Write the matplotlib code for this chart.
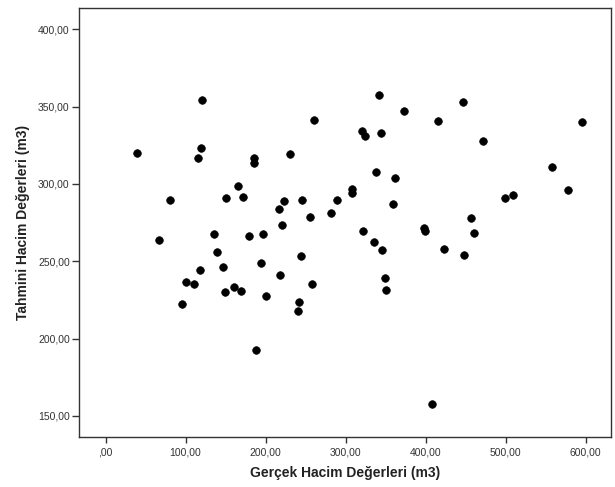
import matplotlib
matplotlib.use("Agg")
import matplotlib.pyplot as plt
from matplotlib.ticker import FuncFormatter

plt.rcParams['font.family'] = ['Liberation Sans', 'DejaVu Sans']

# gerçek hacim (x) ve tahmini hacim (y)
gercek = [38.9, 121, 119, 115, 185, 185, 231, 260, 321, 324,
          341.5, 344.5, 372.5, 415, 446.4, 471.5, 596, 558, 578, 80.7,
          67, 165, 151, 171.8, 135.8, 138.8, 179.6, 196.4, 217, 222.4,
          220.5, 246, 256, 282, 289, 308, 308, 337.6, 361.7, 358.8,
          321.9, 335, 346, 349.4, 350.4, 397.6, 399.6, 422.7, 447.8, 456.7,
          461, 499, 509.4, 194.4, 147, 117.9, 100.9, 110.7, 218, 244.6,
          257.9, 160, 149.6, 169.8, 200.8, 95, 242, 240.7, 188.5, 408]
tahmini = [320.0, 354.5, 323.5, 316.6, 316.6, 313.8, 319.4, 341.2, 334.3, 331.3,
           357.3, 332.8, 347.4, 340.9, 352.8, 327.6, 340.3, 311.2, 296.1, 289.9,
           263.8, 298.9, 290.7, 291.4, 267.5, 255.8, 266, 267.7, 283.8, 288.8,
           273.7, 289.7, 278.7, 281, 289.4, 296.8, 294, 307.5, 303.9, 287.1,
           269.8, 262.7, 257.3, 239, 231.7, 271.3, 269.6, 257.8, 254.3, 277.8,
           268.1, 291.2, 292.9, 248.7, 246.1, 244, 236.4, 235.3, 240.9, 253.2,
           235.3, 233.6, 230.2, 230.8, 227.6, 222.6, 223.7, 217.7, 192.7, 157.8]

x_ticks = [0, 100, 200, 300, 400, 500, 600]
y_ticks = [150, 200, 250, 300, 350, 400]


def virgul(v, pos):
    s = "%.2f" % v
    s = s.replace(".", ",")
    if s.startswith("0,"):
        s = s[1:]
    return s


fig = plt.figure(figsize=(6.15, 4.87), dpi=100)
ax = fig.add_axes([0.128, 0.103, 0.866, 0.880])

ax.scatter(gercek, tahmini, s=30, color="black", edgecolors="black", linewidths=0.5, zorder=3)

ax.set_xlim(-33.5, 632)
ax.set_ylim(136.4, 413.6)
ax.set_xticks(x_ticks)
ax.set_yticks(y_ticks)
ax.xaxis.set_major_formatter(FuncFormatter(virgul))
ax.yaxis.set_major_formatter(FuncFormatter(virgul))

ax.tick_params(axis="x", length=4.5, width=1, pad=3, labelsize=7.5, labelcolor="#333333", color="#333333")
ax.tick_params(axis="y", length=5, width=1, pad=1.5, labelsize=7.5, labelcolor="#333333", color="#333333")

for sp in ax.spines.values():
    sp.set_color("#333333")
    sp.set_linewidth(1)

ax.set_xlabel("Gerçek Hacim Değerleri (m3)", fontsize=10, fontweight="bold", color="#222222", labelpad=6)
ax.set_ylabel("Tahmini Hacim Değerleri (m3)", fontsize=10, fontweight="bold", color="#222222", labelpad=6)

fig.savefig("out.png", dpi=100)
